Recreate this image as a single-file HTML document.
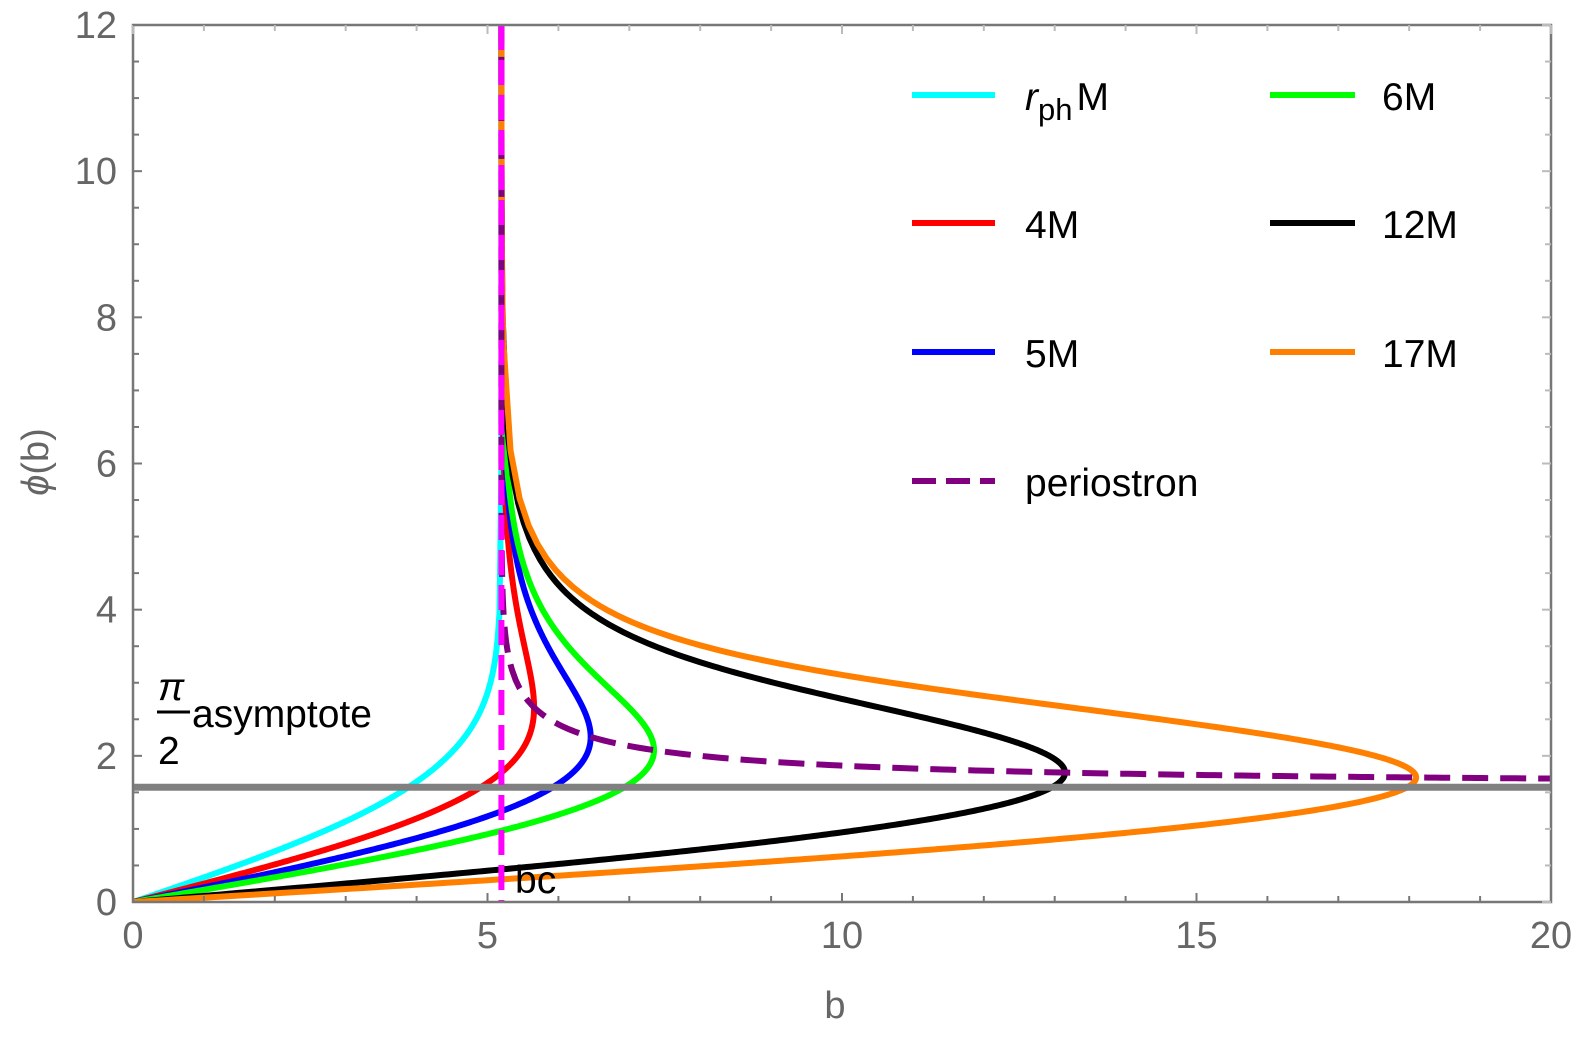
<!DOCTYPE html>
<html><head><meta charset="utf-8"><style>
html,body{margin:0;padding:0;background:#fff;}
svg{display:block;font-family:"Liberation Sans",sans-serif;}
</style></head><body>
<svg id="s" width="1578" height="1040" viewBox="0 0 1578 1040" xmlns="http://www.w3.org/2000/svg">
<defs><clipPath id="c"><rect x="133" y="25" width="1418" height="877"/></clipPath></defs>
<g id="curves" clip-path="url(#c)"></g>
<rect x="133" y="25" width="1418" height="877" fill="none" stroke="#777" stroke-width="2.5"/>
<g id="ticks"></g>
<g fill="#666" font-size="38" id="labels"></g>
<text x="835" y="1018" font-size="38" fill="#666" text-anchor="middle">b</text>
<text transform="translate(48,462) rotate(-90)" font-size="38" fill="#666" text-anchor="middle"><tspan font-style="italic">ϕ</tspan>(b)</text>
<g stroke-width="6">
<line x1="912" y1="95" x2="995" y2="95" stroke="#00ffff"/>
<line x1="912" y1="223" x2="995" y2="223" stroke="#ff0000"/>
<line x1="912" y1="352" x2="995" y2="352" stroke="#0000ff"/>
<line x1="912" y1="481" x2="995" y2="481" stroke="#800080" stroke-dasharray="24,10"/>
<line x1="1270" y1="95" x2="1355" y2="95" stroke="#00ff00"/>
<line x1="1270" y1="223" x2="1355" y2="223" stroke="#000"/>
<line x1="1270" y1="352" x2="1355" y2="352" stroke="#ff8000"/>
</g>
<g font-size="39" fill="#000">
<text x="1025" y="110"><tspan font-style="italic">r</tspan><tspan font-size="31" dy="10">ph</tspan><tspan dy="-10" dx="4">M</tspan></text>
<text x="1025" y="238">4M</text>
<text x="1025" y="367">5M</text>
<text x="1025" y="496">periostron</text>
<text x="1382" y="110">6M</text>
<text x="1382" y="238">12M</text>
<text x="1382" y="367">17M</text>
<text x="158" y="700" font-style="italic">π</text>
<line x1="157" y1="712" x2="190" y2="712" stroke="#000" stroke-width="3"/>
<text x="192" y="727">asymptote</text>
<text x="158" y="764">2</text>
<text x="515" y="893">bc</text>
</g>
</svg>
<script>
const X0=133,X1=1551,Y0=902,Y1=25;
const px=b=>X0+(X1-X0)*b/20, py=p=>Y0-(Y0-Y1)*p/12;
const NS="http://www.w3.org/2000/svg";
function el(parent,tag,attrs,text){const e=document.createElementNS(NS,tag);for(const k in attrs)e.setAttribute(k,attrs[k]);if(text!==undefined)e.textContent=text;document.getElementById(parent).appendChild(e);return e;}
for(let i=0;i<=20;i++){const x=px(i),L=(i%5==0)?9:6;
 el('ticks','line',{x1:x,y1:Y0,x2:x,y2:Y0-L,stroke:'#777','stroke-width':2});
 el('ticks','line',{x1:x,y1:Y1,x2:x,y2:Y1+L,stroke:'#bbb','stroke-width':2});
 if(i%5==0) el('labels','text',{x:x,y:948,'text-anchor':'middle'},String(i));}
for(let i=0;i<=24;i++){const y=py(i/2),L=(i%4==0)?9:6;
 el('ticks','line',{x1:X0,y1:y,x2:X0+L,y2:y,stroke:'#777','stroke-width':2});
 el('ticks','line',{x1:X1,y1:y,x2:X1-L,y2:y,stroke:'#bbb','stroke-width':2});
 if(i%4==0) el('labels','text',{x:117,y:y+13,'text-anchor':'end'},String(i/2));}
const bc=Math.sqrt(27);
function simpson(g,a,b,n){const h=(b-a)/n;let s=g(a)+g(b);for(let i=1;i<n;i++)s+=g(a+i*h)*(i%2?4:2);return s*h/3;}
function integ0(g,a){if(a<=0)return 0;let s=0,lo=0;for(let k=-12;k<=0;k++){const hi=a*Math.pow(10,k);s+=simpson(g,lo,hi,40);lo=hi;}return s;}
function findUp(b){let lo=0,hi=1/3,ib=1/(b*b);for(let k=0;k<90;k++){const m=(lo+hi)/2;(ib-m*m+2*m*m*m>0)?lo=m:hi=m;}return lo;}
function gS(up){return s=>{const u=up*(1-s*s);const br=(up+u)-2*(up*up+up*u+u*u);if(br<=1e-300)return 1e6;return 2*up/Math.sqrt(up*br);};}
function lower(b,u0){
 if(b<bc){const ib=1/(b*b);return simpson(u=>1/Math.sqrt(Math.max(ib-u*u+2*u*u*u,1e-300)),0,u0,600);}
 const up=findUp(b);const s0=Math.sqrt(Math.max(0,1-u0/up));return simpson(gS(up),s0,1,600);}
function upper(b,u0){const up=findUp(b);const s0=Math.sqrt(Math.max(0,1-u0/up));const g=gS(up);
 return integ0(g,1)+integ0(g,s0);}
function path(pts,color,extra){let d='';pts.forEach(p=>{if(!isFinite(p[1]))return;const y=Math.min(p[1],20);d+=(d?'L':'M')+px(p[0]).toFixed(2)+','+py(y).toFixed(2);});
 const a={d:d,fill:'none',stroke:color,'stroke-width':6,'stroke-linejoin':'round'};Object.assign(a,extra||{});el('curves','path',a);}
function curve(r0,color){const u0=1/r0;const bmax=r0/Math.sqrt(1-2/r0);const pts=[];
 if(r0<=3.0001){const p2=[];for(let i=0;i<=200;i++){const b=bc*i/200*0.9999;p2.push([b,lower(Math.max(b,1e-6),u0)]);}
  for(let i=1;i<=300;i++){const bb=bc*(1-Math.pow(10,-4-10*i/300));p2.push([bb,integ0(u=>{const ib=1/(bb*bb);const uu=u0-u;return 1/Math.sqrt(Math.max(ib-uu*uu+2*uu*uu*uu,1e-300));},u0)]);}
  p2.sort((a,b)=>a[0]-b[0]);path(p2,color);return;}
 for(let i=0;i<=300;i++){const t=i/300;const b=bmax*(1-(1-t)*(1-t))*0.9999999;pts.push([b,lower(Math.max(b,1e-6),u0)]);}
 const up=[];for(let i=0;i<200;i++){const t=i/200;const b=bmax-(bmax-bc)*t*t;up.push([b,upper(Math.min(b,bmax*0.9999999),u0)]);}
 for(let i=1;i<=200;i++){const b=bc+(bmax-bc)*0.0025*Math.pow(10,-12*i/200);up.push([b,upper(b,u0)]);}
 up.sort((a,b)=>b[0]-a[0]);
 path(pts.concat(up),color);}
curve(3,'#00ffff');curve(4,'#ff0000');curve(5,'#0000ff');curve(6,'#00ff00');curve(12,'#000000');curve(17,'#ff8000');
(function(){const pts=[];for(let i=0;i<=300;i++){const r=3+Math.pow(10,-12+12*i/300)*0.5;const b=r/Math.sqrt(1-2/r);pts.push([b,integ0(gS(1/r),1)]);}
 for(let i=1;i<=200;i++){const r=3.5+19*i/200;const b=r/Math.sqrt(1-2/r);pts.push([b,integ0(gS(1/r),1)]);}
 pts.sort((a,b)=>a[0]-b[0]);path(pts,'#800080',{'stroke-dasharray':'26,12'});})();
el('curves','line',{x1:X0,y1:py(Math.PI/2),x2:X1,y2:py(Math.PI/2),stroke:'#808080','stroke-width':7});
el('curves','line',{x1:px(bc),y1:Y1,x2:px(bc),y2:Y0,stroke:'#ff00ff','stroke-width':6,'stroke-dasharray':'25,10'});
</script>
</body></html>
